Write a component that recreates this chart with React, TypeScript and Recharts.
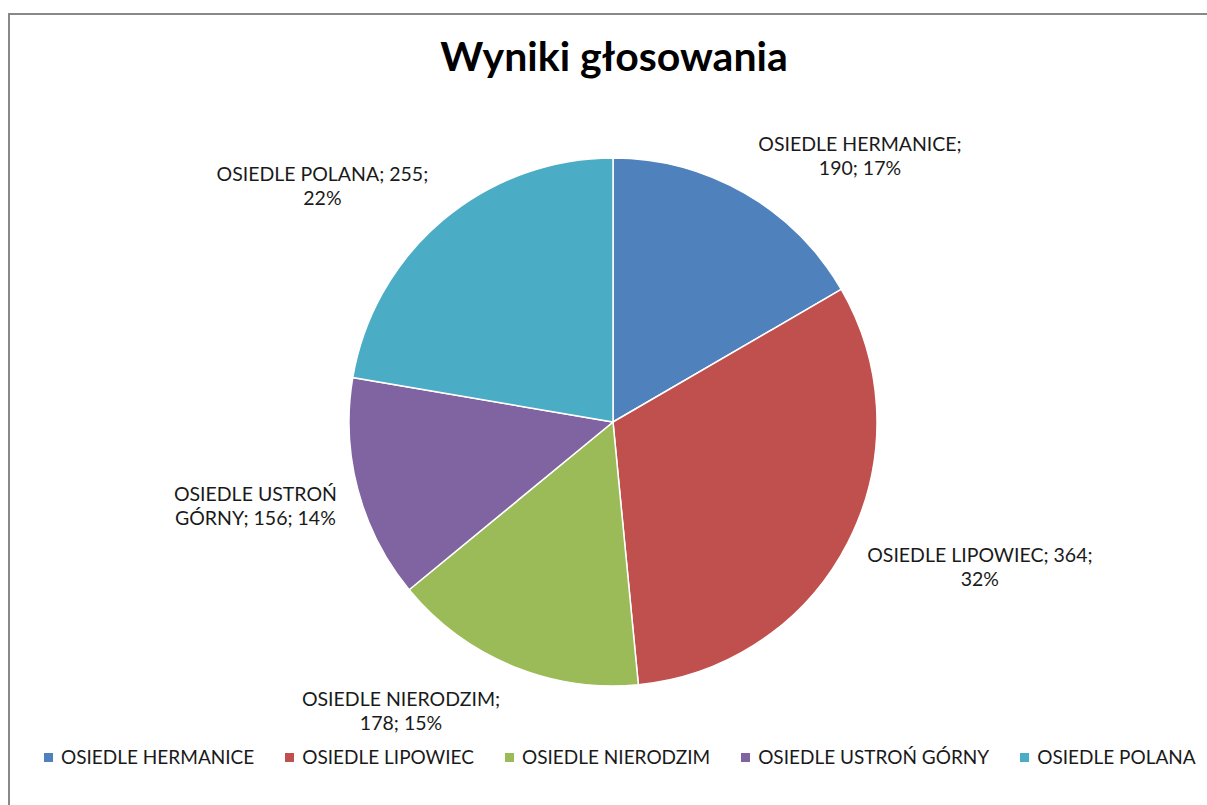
import { PieChart, Pie, Cell, Legend } from "recharts";

const NAMES = [
  "OSIEDLE HERMANICE",
  "OSIEDLE LIPOWIEC",
  "OSIEDLE NIERODZIM",
  "OSIEDLE USTROŃ GÓRNY",
  "OSIEDLE POLANA",
];
const VOTES = [190, 364, 178, 156, 255];
const PCT_LABELS = ["17%", "32%", "15%", "14%", "22%"];
const COLORS = ["#4F81BD", "#C0504D", "#9BBB59", "#8064A2", "#4BACC6"];

// how many words of "name; votes; pct" go on the first label line
const FIRST_LINE_WORDS = [2, 3, 2, 2, 3];

// label placement: degrees off the slice middle, distance from centre
const LABEL_TURN = [-13.7, 4.7, -13.1, -0.6, 11.6];
const LABEL_DIST = [358, 397, 364, 369, 370];

const data = NAMES.map((name, i) => ({ name, value: VOTES[i] }));

const FONT = "Lato, 'Noto Sans', sans-serif";
const RADIAN = Math.PI / 180;

function renderLabel(props: any) {
  const { cx, cy, midAngle, index } = props;
  const a = (midAngle + LABEL_TURN[index]) * RADIAN;
  const x = cx + LABEL_DIST[index] * Math.cos(a);
  const y = cy - LABEL_DIST[index] * Math.sin(a);
  const words = `${NAMES[index]}; ${VOTES[index]}; ${PCT_LABELS[index]}`.split(" ");
  const n = FIRST_LINE_WORDS[index];
  return (
    <text textAnchor="middle" fontFamily={FONT} fontSize={19.5} fill="#1a1a1a">
      <tspan x={x} y={y - 12}>{words.slice(0, n).join(" ")}</tspan>
      <tspan x={x} y={y + 12}>{words.slice(n).join(" ")}</tspan>
    </text>
  );
}

function renderLegend() {
  return (
    <div style={{ display: "flex", alignItems: "center", fontFamily: FONT, fontSize: 19, lineHeight: "24px", color: "#1a1a1a", whiteSpace: "nowrap" }}>
      {NAMES.map((name, i) => (
        <div key={name} style={{ display: "flex", alignItems: "center", marginRight: 31 }}>
          <span style={{ width: 9, height: 9, background: COLORS[i], marginRight: 8, display: "inline-block" }} />
          <span>{name}</span>
        </div>
      ))}
    </div>
  );
}

export default function App() {
  return (
    <div
      style={{
        position: "fixed",
        left: 8,
        top: 13,
        width: 1199,
        height: 792,
        borderTop: "2px solid #888",
        borderLeft: "2px solid #888",
        boxSizing: "border-box",
        background: "#fff",
        overflow: "hidden",
      }}
    >
      <div
        style={{
          position: "absolute",
          left: 304,
          top: 20,
          width: 600,
          textAlign: "center",
          fontFamily: FONT,
          fontWeight: 700,
          fontSize: 41,
          lineHeight: 1,
          color: "#000",
        }}
      >
        Wyniki głosowania
      </div>
      <PieChart width={1197} height={790}>
        <Pie
          data={data}
          dataKey="value"
          nameKey="name"
          cx={598}
          cy={402}
          outerRadius={264}
          startAngle={90}
          endAngle={-270}
          stroke="#fff"
          strokeWidth={1.5}
          label={renderLabel}
          labelLine={false}
          isAnimationActive={false}
        >
          {data.map((entry, index) => (
            <Cell key={`cell-${index}`} fill={COLORS[index]} />
          ))}
        </Pie>
        <Legend content={renderLegend} wrapperStyle={{ left: 34, top: 730, width: 1160, bottom: "auto" }} />
      </PieChart>
    </div>
  );
}
